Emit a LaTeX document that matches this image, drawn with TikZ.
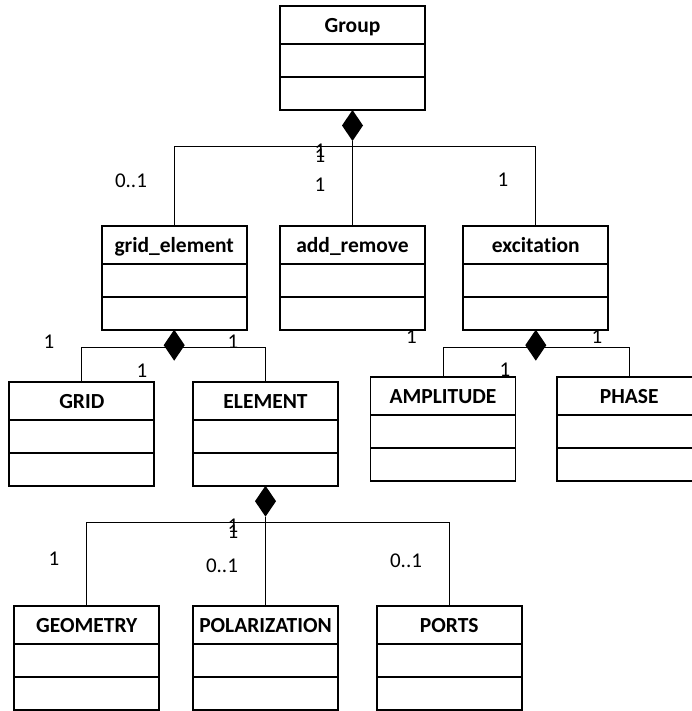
\documentclass[tikz,border=0pt]{standalone}
\usepackage{fontspec}
\setmainfont[Ligatures={NoCommon}]{Carlito}
\usetikzlibrary{calc}

\tikzset{
  clsbox/.style={draw, line width=1.7pt, minimum width=145pt, minimum height=104pt,
                 inner sep=0pt, outer sep=0pt},
  clstitle/.style={inner sep=0pt, font=\fontsize{21.5}{25}\selectfont\bfseries},
  divider/.style={line width=1.7pt},
  conn/.style={line width=0.9pt},
  mult/.style={inner sep=0pt, font=\fontsize{21}{25}\selectfont},
  compdiamond/.style={fill=black}
}

% a UML class box: name, centre x, top y, title
\newcommand{\umlclass}[4]{%
  \node[clsbox] (#1) at (#2,#3+52) {};
  \node[clstitle, anchor=base] (#1-t) at ($(#1.north)+(0,26.5)$) {#4};
  \draw[divider] ($(#1.north west)+(0,38)$) -- ($(#1.north east)+(0,38)$);
  \draw[divider] ($(#1.north west)+(0,71)$) -- ($(#1.north east)+(0,71)$);
}

% filled composition diamond hanging below a box
\newcommand{\compdia}[2]{% box name, tip coordinate name
  \coordinate (#2) at ($(#1.south)+(0,31)$);
  \fill[compdiamond] (#1.south) -- ++(-10.5,15.5) -- (#2) -- ++(10.5,-15.5) -- cycle;
}

\begin{document}
\begin{tikzpicture}[x=1pt,y=-1pt]
\useasboundingbox (0,0) rectangle (691,711);

% classes
\umlclass{group}{352.5}{6}{Group}
\umlclass{ge}{174.2}{225.7}{grid\_element}
\umlclass{addr}{352.5}{225.7}{add\_remove}
\umlclass{exc}{535.8}{225.7}{excitation}
\umlclass{grid}{81.8}{381.7}{GRID}
\umlclass{elem}{265.5}{381.7}{ELEMENT}
\umlclass{amp}{443}{377.3}{AMPLITUDE}
\umlclass{phase}{629.2}{377.3}{PHASE}
\umlclass{geo}{86.8}{605.7}{GEOMETRY}
\umlclass{pol}{265.5}{605.7}{POLARIZATION}
\umlclass{ports}{449.2}{605.7}{PORTS}

% Group composition
\coordinate (j1) at (352.5,146.5);
\draw[conn] (ge.north) |- (j1) -| (exc.north);
\compdia{group}{gd}
\draw[conn] (gd) -- (addr.north);

% grid_element composition
\coordinate (j2) at (174.2,347.3);
\draw[conn] (grid.north) |- (j2) -| (elem.north);
\compdia{ge}{ged}

% excitation composition
\coordinate (j3) at (535.8,347.3);
\draw[conn] (amp.north) |- (j3) -| (phase.north);
\compdia{exc}{exd}

% ELEMENT composition
\coordinate (j4) at (265.5,522.3);
\draw[conn] (geo.north) |- (j4) -| (ports.north);
\compdia{elem}{eld}
\draw[conn] (eld) -- (pol.north);

% multiplicities
\node[mult] (m1) at (131,181) {0..1};
\node[mult] (m2) at (320,151) {1};
\node[mult] (m3) at (320,156) {1};
\node[mult] (m4) at (320,185) {1};
\node[mult] (m5) at (503,180) {1};

\node[mult] (m6) at (49,342) {1};
\node[mult] (m7) at (142,371) {1};
\node[mult] (m8) at (233,342) {1};
\node[mult] (m9) at (411.5,337) {1};
\node[mult] (m10) at (505,370) {1};
\node[mult] (m11) at (597,337) {1};

\node[mult] (m12) at (54,559) {1};
\node[mult] (m13) at (233,526) {1};
\node[mult] (m14) at (233,532) {1};
\node[mult] (m15) at (222,566) {0..1};
\node[mult] (m16) at (406,561) {0..1};
\end{tikzpicture}
\end{document}
